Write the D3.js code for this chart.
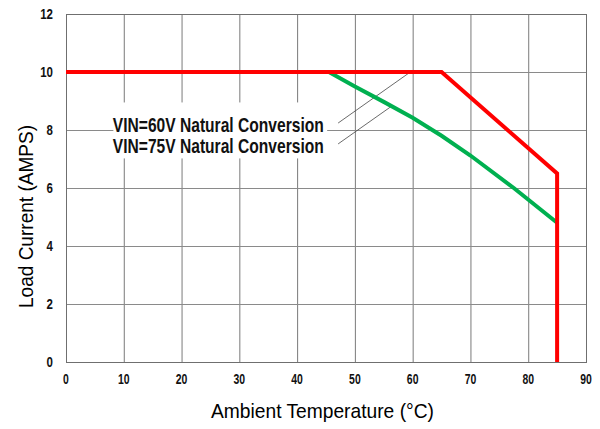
<!DOCTYPE html>
<html>
<head>
<meta charset="utf-8">
<script src="https://cdn.jsdelivr.net/npm/d3@7"></script>
<style>
  body { margin: 0; background: #fff; }
  svg { display: block; font-family: "Liberation Sans", Arial, sans-serif; }
</style>
</head>
<body>
<svg id="chart" width="600" height="429"></svg>
<script>
// derating curves
var xTicks = [0, 10, 20, 30, 40, 50, 60, 70, 80, 90],
    yTicks = [0, 2, 4, 6, 8, 10, 12];

var vin60 = [[0, 10], [65, 10], [85, 6.5], [85, 0]];
var vin75 = [[45.5, 10], [50, 9.5], [55, 8.97], [60, 8.42], [65, 7.8], [70, 7.12], [77.5, 6.0], [85, 4.8]];

var labels = ["VIN=60V Natural Conversion", "VIN=75V Natural Conversion"];
// leader lines: from label end to curve, in data units
var leaders = [[[47.1, 8.24], [59.6, 10]], [[47.1, 7.52], [56.2, 8.8]]];

var svg = d3.select("#chart");

var x = d3.scaleLinear().domain([0, 90]).range([66, 586]),
    y = d3.scaleLinear().domain([0, 12]).range([362, 14]);

var line = d3.line()
    .x(function(d) { return x(d[0]); })
    .y(function(d) { return y(d[1]); });

// grid
svg.append("g")
    .attr("transform", "translate(0," + y(0) + ")")
    .call(d3.axisBottom(x).tickValues(xTicks).tickSize(y(12) - y(0)).tickFormat(""))
    .call(function(g) {
      g.select(".domain").remove();
      g.selectAll("line").attr("stroke", "#7a7a7a");
    });

svg.append("g")
    .attr("transform", "translate(" + x(0) + ",0)")
    .call(d3.axisLeft(y).tickValues(yTicks).tickSize(x(0) - x(90)).tickFormat(""))
    .call(function(g) {
      g.select(".domain").remove();
      g.selectAll("line").attr("stroke", "#8a8a8a");
    });

svg.append("rect")
    .attr("x", x(0) + 0.5)
    .attr("y", y(12) + 0.5)
    .attr("width", x(90) - x(0))
    .attr("height", y(0) - y(12))
    .attr("fill", "none")
    .attr("stroke", "#6f6f6f");

// tick labels
svg.append("g").selectAll("text")
    .data(xTicks)
  .enter().append("text")
    .attr("x", function(d) { return x(d); })
    .attr("y", y(0) + 22)
    .attr("text-anchor", "middle")
    .attr("font-size", 14)
    .attr("font-weight", "bold")
    .attr("fill", "#111")
    .attr("textLength", function(d) { return String(d).length * 5.8; })
    .attr("lengthAdjust", "spacingAndGlyphs")
    .text(function(d) { return d; });

svg.append("g").selectAll("text")
    .data(yTicks)
  .enter().append("text")
    .attr("x", x(0) - 13)
    .attr("y", function(d) { return y(d); })
    .attr("dy", ".36em")
    .attr("text-anchor", "end")
    .attr("font-size", 14)
    .attr("font-weight", "bold")
    .attr("fill", "#111")
    .attr("textLength", function(d) { return String(d).length * 6.4; })
    .attr("lengthAdjust", "spacingAndGlyphs")
    .text(function(d) { return d; });

// axis titles
svg.append("text")
    .attr("x", 211)
    .attr("y", 418)
    .attr("font-size", 21)
    .attr("textLength", 223)
    .attr("lengthAdjust", "spacingAndGlyphs")
    .text("Ambient Temperature (\u00B0C)");

svg.append("text")
    .attr("transform", "translate(33,308) rotate(-90)")
    .attr("font-size", 21)
    .attr("textLength", 183)
    .attr("lengthAdjust", "spacingAndGlyphs")
    .text("Load Current (AMPS)");

// label box hides the grid behind the text
svg.append("rect")
    .attr("x", x(8.2))
    .attr("y", y(8.95))
    .attr("width", x(45.2) - x(8.2))
    .attr("height", y(7.02) - y(8.95))
    .attr("fill", "#fff");

svg.append("g").selectAll("text")
    .data(labels)
  .enter().append("text")
    .attr("x", x(8.1))
    .attr("y", function(d, i) { return y(i ? 7.2 : 7.94); })
    .attr("font-size", 21)
    .attr("font-weight", "bold")
    .attr("fill", "#111")
    .attr("textLength", 211)
    .attr("lengthAdjust", "spacingAndGlyphs")
    .text(function(d) { return d; });

svg.append("g").selectAll("path")
    .data(leaders)
  .enter().append("path")
    .attr("d", line)
    .attr("fill", "none")
    .attr("stroke", "#444")
    .attr("stroke-width", 0.8);

// curves
svg.append("path")
    .datum(vin75)
    .attr("d", line)
    .attr("fill", "none")
    .attr("stroke", "#00b050")
    .attr("stroke-width", 4);

svg.append("path")
    .datum(vin60)
    .attr("d", line)
    .attr("fill", "none")
    .attr("stroke", "#ff0000")
    .attr("stroke-width", 4);
</script>
</body>
</html>
